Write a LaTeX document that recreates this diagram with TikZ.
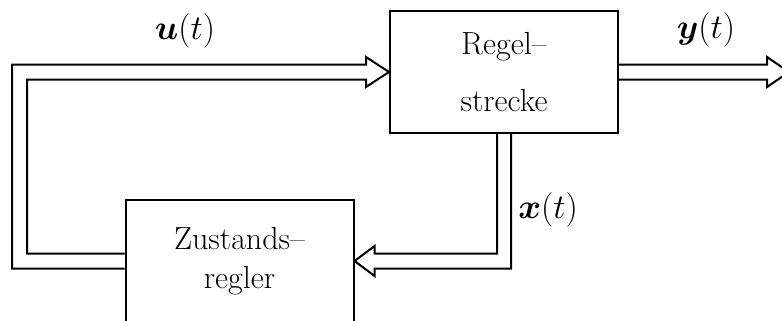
\documentclass[tikz,border=0pt]{standalone}
\usepackage{amsmath, amssymb}
\usepackage{tikz}
\usetikzlibrary{calc,positioning}

\begin{document}
\begin{tikzpicture}[x=0.5pt, y=-0.5pt]
  \tikzstyle{block}=[draw, line width=1pt, minimum width=114pt, minimum height=61pt, align=center, font=\fontsize{16}{19}\selectfont]
  \tikzstyle{sig}=[line width=1pt, line join=miter]
  \tikzstyle{lbl}=[font=\fontsize{16}{19}\selectfont]
  \useasboundingbox (0,0) rectangle (782,321);
  \node[block] (strecke) at (504,72) {Regel--\\[9.5pt]strecke};
  \node[block] (regler) at (239.5,261) {Zustands--\\[0.5pt]regler};
  % u(t): Regler -> Strecke
  \draw[sig] ($(regler.west)+(0,7.5)$) -| ($(strecke.west)+(-377,-7.5)$)
    -- ($(strecke.west)+(-23,-7.5)$) -- ++(0,-7.5) -- (strecke.west)
    -- ($(strecke.west)+(-23,15)$) -- ++(0,-7.5)
    -- ($(strecke.west)+(-362,7.5)$) |- ($(regler.west)+(0,-7.5)$);
  % x(t): Strecke -> Regler
  \draw[sig] ($(strecke.south)+(-7,0)$) |- ($(regler.east)+(20,-7.5)$)
    -- ++(0,-7.5) -- (regler.east) -- ($(regler.east)+(20,15)$)
    -- ++(0,-7.5) -| ($(strecke.south)+(7,0)$);
  % y(t): Ausgang
  \coordinate (yout) at ($(strecke.east)+(170,0)$);
  \draw[sig] ($(strecke.east)+(0,-7.5)$) -- ($(yout)+(-22,-7.5)$)
    -- ++(0,-7.5) -- (yout) -- ($(yout)+(-22,15)$) -- ++(0,-7.5)
    -- ($(strecke.east)+(0,7.5)$);
  \node[lbl] (ulbl) at (185,31) {$\boldsymbol{u}(t)$};
  \node[lbl] (ylbl) at (706,30) {$\boldsymbol{y}(t)$};
  \node[lbl] (xlbl) at (548,210) {$\boldsymbol{x}(t)$};
\end{tikzpicture}
\end{document}
